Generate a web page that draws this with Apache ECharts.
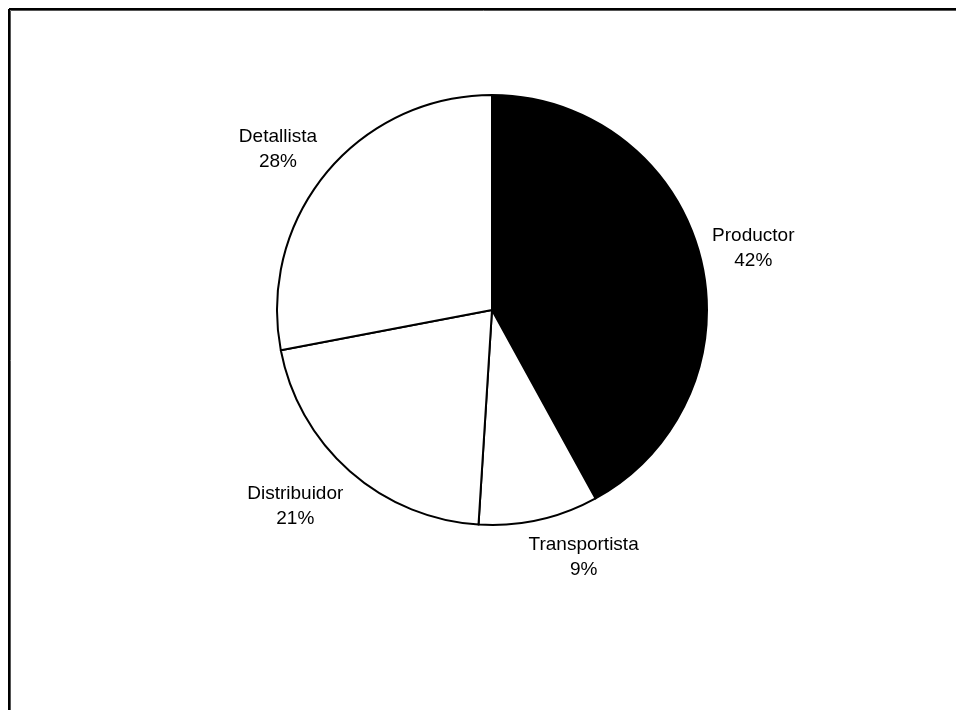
<!DOCTYPE html>
<html>
<head>
<meta charset="utf-8">
<script src="https://cdn.jsdelivr.net/npm/echarts@6/dist/echarts.min.js"></script>
<style>
html,body{margin:0;padding:0;background:#fff;}
#chart{width:956px;height:710px;}
</style>
</head>
<body>
<div id="chart"></div>
<script>
const categories = ['Productor', 'Transportista', 'Distribuidor', 'Detallista'];
const values = [42, 9, 21, 28];
const colors = ['#000000', '#ffffff', '#ffffff', '#ffffff'];
// small label position nudges (style, in pixels)
const labelNudgeX = [1, 33, -19, -7];
const labelNudgeY = [5, -15, -5, 11];

const CX = 492, CY = 310, R = 215, LABEL_R = 1.25 * R;
const total = values.reduce((a, b) => a + b, 0);
function midAngle(i) {
  let before = 0;
  for (let k = 0; k < i; k++) before += values[k];
  return ((before + values[i] / 2) / total) * 2 * Math.PI;
}

const chart = echarts.init(document.getElementById('chart'), null, {renderer: 'canvas'});
chart.setOption({
  backgroundColor: '#ffffff',
  animation: false,
  graphic: [
    {type: 'line', shape: {x1: 9, y1: 9, x2: 960, y2: 9}, style: {stroke: '#000', lineWidth: 2}},
    {type: 'line', shape: {x1: 9, y1: 9, x2: 9, y2: 720}, style: {stroke: '#000', lineWidth: 2}},
    {type: 'line', shape: {x1: 10.5, y1: 10.5, x2: 960, y2: 10.5}, style: {stroke: '#555', lineWidth: 1}},
    {type: 'line', shape: {x1: 10.5, y1: 10.5, x2: 10.5, y2: 720}, style: {stroke: '#555', lineWidth: 1}}
  ],
  series: [{
    type: 'pie',
    center: [CX, CY],
    radius: R,
    startAngle: 90,
    clockwise: true,
    avoidLabelOverlap: false,
    data: categories.map((c, i) => ({name: c, value: values[i], itemStyle: {color: colors[i]}})),
    itemStyle: {borderColor: '#000', borderWidth: 2},
    label: {
      show: true,
      position: 'outside',
      formatter: p => p.name + '\n' + Math.round(p.percent) + '%',
      fontFamily: 'Liberation Sans, Arial, sans-serif',
      fontSize: 19,
      lineHeight: 25,
      color: '#000',
      align: 'center'
    },
    labelLine: {show: false},
    labelLayout: function (params) {
      const i = params.dataIndex;
      const a = midAngle(i);
      return {
        x: CX + LABEL_R * Math.sin(a) + labelNudgeX[i],
        y: CY - LABEL_R * Math.cos(a) + labelNudgeY[i],
        align: 'center',
        verticalAlign: 'middle'
      };
    },
    emphasis: {disabled: true}
  }]
});
</script>
</body>
</html>
